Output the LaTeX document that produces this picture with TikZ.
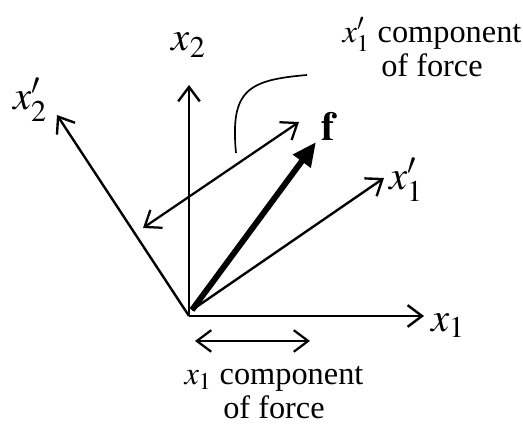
\documentclass[tikz,border=0pt]{standalone}
\usepackage{mathptmx}
\usepackage{fontspec}
\setmainfont{Liberation Serif}
\usepackage{tikz}
\usetikzlibrary{positioning,calc,arrows.meta}

\tikzset{
  axis/.style={line width=1.7pt, -{Straight Barb[length=3.6mm,width=5.4mm]}},
  comp/.style={line width=1.6pt, {Straight Barb[length=3.6mm,width=5.4mm]}-{Straight Barb[length=3.6mm,width=5.4mm]}},
  force/.style={line width=4.2pt, -{Triangle[length=6mm,width=5.2mm]}},
  lbl/.style={inner sep=0pt, align=center},
  axlbl/.style={inner sep=0pt, font=\fontsize{29}{30}\selectfont}
}

\begin{document}
\begin{tikzpicture}[font=\fontsize{23}{24.5}\selectfont]
  \useasboundingbox (0,0) rectangle (13.075, 10.8);

  % Origin and axis ends
  \coordinate (O) at (4.725, 2.9);
  \coordinate (Of) at (4.8, 3.05);
  \coordinate (x1end) at (10.6, 2.9);
  \coordinate (x2end) at (4.725, 8.675);
  \coordinate (x1pend) at (9.6, 6.35);
  \coordinate (x2pend) at (1.425, 7.925);
  \coordinate (fend) at (7.9, 7.25);

  % Axes x1, x2
  \draw[axis] (O) -- (x1end);
  \draw[axis] (O) -- (x2end);
  \node[axlbl] (x1lbl) at (11.2, 2.65) {$x_1$};
  \node[axlbl] (x2lbl) at (4.72, 9.67) {$x_2$};

  % Rotated axes x1', x2'
  \draw[axis] (O) -- (x2pend);
  \draw[axis] (Of) -- (x1pend);
  \node[axlbl] (x2plbl) at (0.75, 8.3) {$x_2'$};
  \node[axlbl] (x1plbl) at (10.15, 6.3) {$x_1'$};

  % Force vector
  \draw[force] (Of) -- (fend);
  \node[axlbl] (flbl) at (8.2, 7.65) {$\mathbf{f}$};

  % x1' component
  \coordinate (cpa) at (3.575, 5.1);
  \coordinate (cpb) at (7.475, 7.75);
  \draw[comp] (cpa) -- (cpb);
  \coordinate (leadA) at (5.9, 6.975);
  \coordinate (leadB) at (7.675, 8.925);
  \draw[line width=1.2pt] (leadA) .. controls (5.75, 8.55) and (6.2, 8.8) .. (leadB);
  \node[lbl] (cplbl) at (10.8, 9.62) {$x_1'$ component\\of force};

  % x1 component
  \coordinate (ca) at (4.875, 2.275);
  \coordinate (cb) at (7.75, 2.275);
  \draw[comp] (ca) -- (cb);
  \node[lbl] (clbl) at (6.85, 0.98) {$x_1$ component\\of force};
\end{tikzpicture}
\end{document}
